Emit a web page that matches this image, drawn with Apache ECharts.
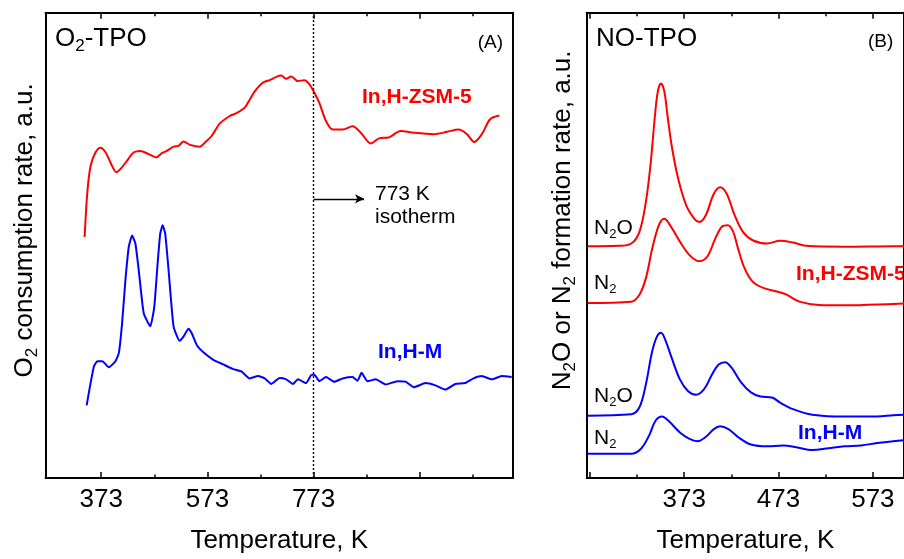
<!DOCTYPE html>
<html>
<head>
<meta charset="utf-8">
<script src="https://cdn.jsdelivr.net/npm/echarts@6/dist/echarts.min.js"></script>
<style>html,body{margin:0;padding:0;background:#fff}#c{width:904px;height:559px}</style>
</head>
<body>
<div id="c"></div>
<script>
// ---------- DATA ----------
// Panel A: O2-TPO, temperature (K) vs O2 consumption rate (a.u.)
const o2ZSM5 = [[341.7,51.8],[346.8,61.4],[353,67.1],[362.3,70.0],[371.7,71.0],[381.1,70.0],[390.4,67.8],[401.7,65.7],[412.3,66.8],[421.7,68.2],[434.3,70.0],[446.6,70.3],[462.4,69.6],[476.6,68.9],[487.3,69.8],[496.6,70.3],[509.2,71.2],[518.6,71.4],[527.9,72.3],[540.3,71.6],[559,71.2],[568.4,72.1],[580.9,73.5],[596.5,76.2],[615.2,77.8],[627.8,78.4],[643.3,79.6],[652.7,81.3],[662.1,83.1],[677.8,85.0],[690.2,85.5],[702.7,86.2],[712.1,86.5],[721.4,85.8],[730.8,86.3],[743.4,85.3],[755.7,85.5],[765.1,84.6],[774.5,82.8],[783.8,80.6],[796.4,76.7],[808.9,74.9],[827.7,74.9],[846.4,75.6],[861.9,74.2],[880.7,71.9],[896.2,73.0],[915,73.2],[936.9,74.6],[961.8,74.2],[999.3,73.9],[1024.4,74.4],[1046.1,74.9],[1061.8,73.9],[1075.5,72.2],[1089.9,73.9],[1105.5,77.1],[1122.9,77.9]];
const o2HM = [[345.5,15.6],[351.8,19.7],[359.3,24.0],[365.5,25.1],[374.9,25.1],[387.4,23.8],[399.8,25.1],[406.2,26.9],[412.3,33.3],[418.5,42.5],[424.9,49.7],[431.1,52.1],[437.3,50.4],[443.6,44.7],[453,35.4],[465.4,32.6],[472.9,36.8],[479.2,46.1],[484.1,52.5],[488.6,54.3],[493.5,52.5],[499.8,44.7],[509.2,32.6],[520.4,29.5],[527.9,30.4],[537.3,32.1],[543.5,31.1],[552.8,28.6],[565.4,27.0],[584.1,25.4],[602.9,24.4],[621.6,23.4],[637.1,22.9],[652.7,21.4],[668.4,21.9],[680.8,21.4],[693.3,20.2],[708.9,21.5],[721.4,21.2],[734,20.2],[743.4,21.2],[758.9,20.4],[768.3,22.1],[774.5,22.2],[783.8,20.8],[796.4,21.7],[811.9,20.7],[827.7,21.4],[846.4,21.7],[855.7,20.9],[863.3,22.6],[874.5,20.8],[890,21.2],[908.8,20.1],[930.7,20.8],[946.3,20.7],[961.8,19.5],[983.7,20.4],[1002.4,19.9],[1021.2,19.0],[1039.9,20.2],[1058.6,20.4],[1074.2,21.4],[1089.9,21.9],[1108.7,21.2],[1127.4,21.9],[1146.1,21.7]];
// Panel B: NO-TPO, temperature (K) vs N2O / N2 formation rate (a.u.)
const noZSM5_N2O = [[270.6,49.8],[303.1,49.9],[316.9,50.4],[325.5,52.9],[332.3,59.3],[337.5,67.8],[341.6,77.1],[345,83.1],[348.4,84.8],[351.9,83.1],[355.3,77.8],[359.7,71.4],[366.6,64.3],[375.1,58.6],[383.8,55.7],[388.9,55.0],[395.7,56.4],[404.4,61.1],[411.1,62.5],[418,61.1],[426.6,56.4],[435.2,52.9],[445.5,51.1],[460.9,50.4],[474.6,51.0],[488.3,50.6],[502.1,49.9],[543.2,49.7],[594.6,49.8],[606,49.8]];
const noZSM5_N2 = [[270.6,37.6],[316.9,37.9],[325.5,39.4],[332.3,42.9],[339.1,49.3],[346,54.3],[351.9,55.7],[358.1,54.3],[368.4,50.8],[378.6,47.9],[388.9,46.6],[397.5,47.6],[406,51.5],[412.9,54.0],[419.1,54.3],[424.9,52.9],[430.1,49.3],[436.9,45.1],[445.5,42.2],[457.4,40.8],[471.2,40.1],[481.5,39.4],[495.2,37.9],[515.7,37.2],[543.2,37.1],[594.6,37.4],[606,37.5]];
const noHM_N2O = [[270.6,13.4],[316.9,13.7],[325.5,15.2],[332.3,20.1],[339.1,27.3],[344.3,30.5],[348.4,31.2],[352.9,29.7],[359.7,25.8],[368.4,21.2],[376.9,18.7],[385.4,17.9],[394.1,19.1],[402.6,22.3],[409.5,24.4],[416.3,24.9],[423.2,23.7],[433.5,20.5],[443.7,18.4],[454,17.5],[466.1,17.3],[474.6,16.2],[488.3,14.8],[508.9,13.6],[543.2,13.2],[577.5,13.2],[594.6,13.5],[606,13.6]];
const noHM_N2 = [[270.6,5.2],[316.9,5.2],[327.2,6.3],[335.7,9.1],[342.6,12.3],[349.4,13.2],[356.3,12.3],[368.4,9.8],[378.6,8.4],[387.2,7.9],[395.7,8.8],[404.4,10.5],[411.1,11.1],[419.8,10.5],[430.1,8.8],[443.7,7.2],[460.9,6.8],[478,7.0],[491.8,6.6],[508.9,6.0],[526,6.4],[543.2,6.8],[560.3,7.0],[577.5,7.5],[594.6,7.9],[606,8.1]];
// Axis ticks / labels
const aMajor = [373, 573, 773, 973];
const aMinor = [473, 673, 873, 1073];
const aLabels = [373, 573, 773];
const bMajor = [273, 373, 473, 573];
const bMinor = [323, 423, 523];
const bLabels = [373, 473, 573];
const isothermT = 773;
const arrowY = 60;
const arrowEndT = 868;

// ---------- STYLE ----------
const FF = '"Liberation Sans", Arial, Helvetica, sans-serif';
const RED = '#ff0000', BLUE = '#0000ff';
const gridA = {left: 42.7, top: 12.7, width: 470.3, height: 468};
const gridB = {left: 586.7, top: 12.7, width: 327, height: 468.3};

function xAx(gi, pos, ticks, len, opts) {
  return Object.assign({
    type: 'value', gridIndex: gi, position: pos, min: gi === 0 ? 268 : 269.6, max: gi === 0 ? 1148.6 : 606,
    axisLine: {show: false, onZero: false, lineStyle: {color: '#000', width: 2}},
    axisTick: {show: true, inside: true, length: len, customValues: ticks, lineStyle: {color: '#000', width: 1.5}},
    axisLabel: {show: false},
    splitLine: {show: false}
  }, opts || {});
}
const tickLabel = (vals) => ({show: true, customValues: vals, color: '#000', fontFamily: FF, fontSize: 26, margin: 9});
const nameStyle = {color: '#000', fontFamily: FF, fontSize: 26};

const subRich = {
  t: {fontSize: 26, fontFamily: FF, color: '#000', lineHeight: 30},
  s: {fontSize: 17, fontFamily: FF, color: '#000', lineHeight: 17, padding: [16, 0, 0, 0]}
};
const smallRich = {
  t: {fontSize: 21, fontFamily: FF, color: '#000', lineHeight: 24},
  s: {fontSize: 13, fontFamily: FF, color: '#000', lineHeight: 13, padding: [13, 0, 0, 0]}
};

function yAx(gi, pos, opts) {
  return Object.assign({
    type: 'value', gridIndex: gi, position: pos, min: 0, max: 100,
    axisLine: {show: true, onZero: false, lineStyle: {color: '#000', width: 2}},
    axisTick: {show: false}, axisLabel: {show: false}, splitLine: {show: false}
  }, opts || {});
}

const lineSeries = (name, data, color, xi, yi, smooth, extra) => Object.assign({
  name, type: 'line', data, xAxisIndex: xi, yAxisIndex: yi, showSymbol: false, smooth,
  lineStyle: {color, width: 2}, itemStyle: {color}, silent: true, z: 3
}, extra || {});

const option = {
  animation: false,
  backgroundColor: '#fff',
  grid: [gridA, gridB],
  xAxis: [
    xAx(0, 'bottom', aMajor, 6, {axisLine: {show: true, onZero: false, lineStyle: {color: '#000', width: 2}},
      axisLabel: tickLabel(aLabels), name: 'Temperature, K', nameLocation: 'middle', nameGap: 50, nameTextStyle: nameStyle}),
    xAx(0, 'bottom', aMinor, 3.5),
    xAx(0, 'top', aMajor, 6, {axisLine: {show: true, onZero: false, lineStyle: {color: '#000', width: 2}}}),
    xAx(0, 'top', aMinor, 3.5),
    xAx(1, 'bottom', bMajor, 6, {axisLine: {show: true, onZero: false, lineStyle: {color: '#000', width: 2}},
      axisLabel: tickLabel(bLabels), name: 'Temperature, K', nameLocation: 'middle', nameGap: 50, nameTextStyle: nameStyle}),
    xAx(1, 'bottom', bMinor, 3.5),
    xAx(1, 'top', bMajor, 6, {axisLine: {show: true, onZero: false, lineStyle: {color: '#000', width: 2}}}),
    xAx(1, 'top', bMinor, 3.5)
  ],
  yAxis: [
    yAx(0, 'left', {name: '{t|O}{s|2}{t| consumption rate, a.u.}', nameLocation: 'middle', nameGap: 6,
      nameTextStyle: {rich: subRich, padding: [0, 0, 0, 30]}}),
    yAx(0, 'right'),
    yAx(1, 'left', {name: '{t|N}{s|2}{t|O or N}{s|2}{t| formation rate, a.u.}', nameLocation: 'middle', nameGap: 9,
      nameTextStyle: {rich: subRich, padding: [0, 0, 0, 50]}}),
    yAx(1, 'right')
  ],
  series: [
    lineSeries('In,H-ZSM-5 O2', o2ZSM5, RED, 0, 0, 0.3, {
      markLine: {silent: true, symbol: ['none', 'none'], label: {show: false},
        lineStyle: {color: '#000', type: [2, 2], width: 1.4},
        data: [{xAxis: isothermT}]}
    }),
    lineSeries('In,H-M O2', o2HM, BLUE, 0, 0, 0.15, {
      markLine: {silent: true, symbol: ['none', 'arrow'], symbolSize: [7, 9], label: {show: false},
        lineStyle: {color: '#000', type: 'solid', width: 1.4},
        data: [[{coord: [isothermT, arrowY]}, {coord: [arrowEndT, arrowY]}]]}
    }),
    lineSeries('In,H-ZSM-5 N2O', noZSM5_N2O, RED, 4, 2, 0.35),
    lineSeries('In,H-ZSM-5 N2', noZSM5_N2, RED, 4, 2, 0.35),
    lineSeries('In,H-M N2O', noHM_N2O, BLUE, 4, 2, 0.35),
    lineSeries('In,H-M N2', noHM_N2, BLUE, 4, 2, 0.35)
  ],
  graphic: [
    {type: 'text', left: 55, top: 22, style: {text: '{t|O}{s|2}{t|-TPO}', rich: subRich}},
    {type: 'text', right: 401, top: 33, style: {text: '(A)', font: '19px ' + FF, fill: '#000'}},
    {type: 'text', left: 362, top: 87, style: {text: 'In,H-ZSM-5', font: 'bold 21px ' + FF, fill: RED}},
    {type: 'text', left: 378, top: 342, style: {text: 'In,H-M', font: 'bold 21px ' + FF, fill: BLUE}},
    {type: 'text', left: 375, top: 184, style: {text: '773 K', font: '21px ' + FF, fill: '#000'}},
    {type: 'text', left: 375, top: 207, style: {text: 'isotherm', font: '21px ' + FF, fill: '#000'}},
    {type: 'text', left: 596, top: 26, style: {text: 'NO-TPO', font: '26px ' + FF, fill: '#000'}},
    {type: 'text', left: 868, top: 32, style: {text: '(B)', font: '19px ' + FF, fill: '#000'}},
    {type: 'text', left: 594, top: 215, style: {text: '{t|N}{s|2}{t|O}', rich: smallRich}},
    {type: 'text', left: 594, top: 270, style: {text: '{t|N}{s|2}', rich: smallRich}},
    {type: 'text', left: 594, top: 383, style: {text: '{t|N}{s|2}{t|O}', rich: smallRich}},
    {type: 'text', left: 594, top: 425, style: {text: '{t|N}{s|2}', rich: smallRich}},
    {type: 'text', left: 796, top: 264, style: {text: 'In,H-ZSM-5', font: 'bold 21px ' + FF, fill: RED}},
    {type: 'text', left: 798, top: 423, style: {text: 'In,H-M', font: 'bold 21px ' + FF, fill: BLUE}}
  ]
};
const chart = echarts.init(document.getElementById('c'), null, {renderer: 'canvas'});
chart.setOption(option);
</script>
</body>
</html>
